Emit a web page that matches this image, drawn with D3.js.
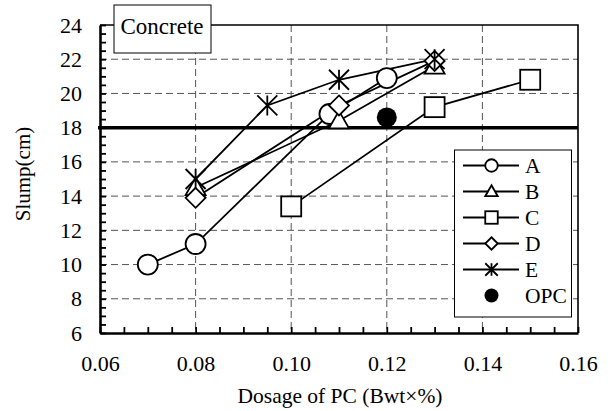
<!DOCTYPE html>
<html>
<head>
<meta charset="utf-8">
<script src="https://cdn.jsdelivr.net/npm/d3@7"></script>
<style>
  html, body { margin: 0; padding: 0; background: #fff; }
  svg text { font-family: "Liberation Serif", "Times New Roman", Times, serif; }
</style>
</head>
<body>
<svg id="chart" width="608" height="411"></svg>
<script>
// Slump of concrete versus PC dosage, per admixture type
const seriesNames = ["A", "B", "C", "D", "E"];
const seriesA = [[0.07, 10.0], [0.08, 11.2], [0.108, 18.8], [0.12, 20.9]];
const seriesB = [[0.08, 14.5], [0.11, 18.4], [0.13, 21.6]];
const seriesC = [[0.10, 13.4], [0.13, 19.2], [0.15, 20.8]];
const seriesD = [[0.08, 13.9], [0.11, 19.3], [0.13, 21.9]];
const seriesE = [[0.08, 15.0], [0.095, 19.3], [0.11, 20.8], [0.13, 22.0]];
const opcPoint = [[0.12, 18.6]];
const targetSlump = 18;
const xTicks = [0.06, 0.08, 0.10, 0.12, 0.14, 0.16];
const yTicks = [6, 8, 10, 12, 14, 16, 18, 20, 22, 24];
const markerTypes = ["circle", "triangle", "square", "diamond", "star"];

const FONT = "'Liberation Serif', 'Times New Roman', Times, serif";
const svg = d3.select("#chart");
const pL = 100, pR = 578, pT = 25, pB = 333;

const x = d3.scaleLinear().domain([0.06, 0.16]).range([pL, pR]);
const y = d3.scaleLinear().domain([6, 24]).range([pB, pT]);

// dashed grid
const grid = svg.append("g").attr("stroke", "#555").attr("stroke-width", 1)
  .attr("stroke-dasharray", "7,4");
grid.selectAll(".gy").data(yTicks.slice(1, -1)).join("line")
  .attr("x1", pL).attr("x2", pR)
  .attr("y1", d => y(d)).attr("y2", d => y(d));
grid.selectAll(".gx").data(xTicks.slice(1, -1)).join("line")
  .attr("y1", pT).attr("y2", pB)
  .attr("x1", d => x(d)).attr("x2", d => x(d));

// target slump line
svg.append("line")
  .attr("x1", pL - 2).attr("x2", pR)
  .attr("y1", y(targetSlump)).attr("y2", y(targetSlump))
  .attr("stroke", "#000").attr("stroke-width", 3.5);

// plot frame (top and right)
svg.append("path")
  .attr("d", `M${pL},${pT}H${pR}V${pB}`)
  .attr("fill", "none").attr("stroke", "#000").attr("stroke-width", 1.6);

// axes with inward ticks
const yMinor = d3.range(6, 24.01, 0.5);
const xMinor = d3.range(0.06, 0.1601, 0.005);

const yAxis = svg.append("g").attr("transform", `translate(${pL},0)`)
  .call(d3.axisLeft(y).tickValues(yMinor).tickSizeInner(-6).tickSizeOuter(0)
    .tickPadding(18).tickFormat(d => yTicks.some(t => Math.abs(t - d) < 1e-9) ? d3.format("d")(d) : ""));
const xAxis = svg.append("g").attr("transform", `translate(0,${pB})`)
  .call(d3.axisBottom(x).tickValues(xMinor).tickSizeInner(-6).tickSizeOuter(0)
    .tickFormat(d => xTicks.some(t => Math.abs(t - d) < 1e-9) ? d3.format(".2f")(d) : ""));

[yAxis, xAxis].forEach(g => {
  g.attr("font-family", FONT).attr("font-size", 22);
  g.select(".domain").attr("stroke", "#000").attr("stroke-width", 2.6);
  g.selectAll(".tick line").attr("stroke", "#000").attr("stroke-width", 1.8);
  g.selectAll("text").attr("fill", "#000").attr("font-family", FONT).attr("font-size", 22);
});
xAxis.selectAll("text").attr("dy", null).attr("y", 37.5);

// axis titles
svg.append("text")
  .attr("x", 340).attr("y", 403).attr("font-family", FONT)
  .attr("text-anchor", "middle").attr("font-size", 21.5)
  .text("Dosage of PC (Bwt×%)");
svg.append("text")
  .attr("transform", `translate(30,174) rotate(-90)`).attr("font-family", FONT)
  .attr("text-anchor", "middle").attr("font-size", 21)
  .text("Slump(cm)");

// marker drawing
function drawMarker(g, type, cx, cy, s) {
  const sw = 1.8;
  if (type === "circle") {
    g.append("circle").attr("cx", cx).attr("cy", cy).attr("r", s / 2)
      .attr("fill", "#fff").attr("stroke", "#000").attr("stroke-width", sw);
  } else if (type === "square") {
    g.append("rect").attr("x", cx - s / 2).attr("y", cy - s / 2).attr("width", s).attr("height", s)
      .attr("fill", "#fff").attr("stroke", "#000").attr("stroke-width", sw);
  } else if (type === "diamond") {
    const h = s / 2;
    g.append("path").attr("d", `M${cx},${cy - h}L${cx + h},${cy}L${cx},${cy + h}L${cx - h},${cy}Z`)
      .attr("fill", "#fff").attr("stroke", "#000").attr("stroke-width", sw);
  } else if (type === "triangle") {
    const h = s / 2;
    g.append("path").attr("d", `M${cx},${cy - h}L${cx + h},${cy + h * 0.75}L${cx - h},${cy + h * 0.75}Z`)
      .attr("fill", "#fff").attr("stroke", "#000").attr("stroke-width", sw);
  } else if (type === "star") {
    const h = s / 2;
    g.append("path").attr("d",
      `M${cx},${cy - h}V${cy + h}M${cx - h},${cy - h}L${cx + h},${cy + h}M${cx + h},${cy - h}L${cx - h},${cy + h}`)
      .attr("fill", "none").attr("stroke", "#000").attr("stroke-width", sw);
  } else if (type === "dot") {
    g.append("circle").attr("cx", cx).attr("cy", cy).attr("r", s / 2).attr("fill", "#000");
  }
}

const allSeries = [seriesA, seriesB, seriesC, seriesD, seriesE];
const line = d3.line().x(d => x(d[0])).y(d => y(d[1]));

// connecting lines first, markers on top
const linesG = svg.append("g");
allSeries.forEach(s => {
  linesG.append("path").attr("d", line(s))
    .attr("fill", "none").attr("stroke", "#000").attr("stroke-width", 1.8);
});
const markG = svg.append("g");
allSeries.forEach((s, i) => {
  s.forEach(d => drawMarker(markG, markerTypes[i], x(d[0]), y(d[1]), 20));
});
opcPoint.forEach(d => drawMarker(markG, "dot", x(d[0]), y(d[1]), 20));

// "Concrete" label box
svg.append("rect").attr("x", 114).attr("y", 5).attr("width", 97).attr("height", 48)
  .attr("fill", "#fff").attr("stroke", "#000").attr("stroke-width", 1);
svg.append("text").attr("x", 162).attr("y", 34).attr("text-anchor", "middle")
  .attr("font-family", FONT).attr("font-size", 23).text("Concrete");

// legend
const legend = svg.append("g");
legend.append("rect").attr("x", 454.5).attr("y", 150).attr("width", 117).attr("height", 167)
  .attr("fill", "#fff").attr("stroke", "#000").attr("stroke-width", 1);
const legendLabels = seriesNames.concat(["OPC"]);
const legendTypes = markerTypes.concat(["dot"]);
legendLabels.forEach((name, i) => {
  const ly = 165.5 + i * 26;
  if (legendTypes[i] !== "dot") {
    legend.append("line").attr("x1", 463).attr("x2", 519).attr("y1", ly).attr("y2", ly)
      .attr("stroke", "#000").attr("stroke-width", 1.8);
  }
  drawMarker(legend, legendTypes[i], 491.5, ly, legendTypes[i] === "dot" ? 14 : 12.5);
  legend.append("text").attr("x", 525).attr("y", ly + 7).attr("font-family", FONT)
    .attr("font-size", 21.5).text(name);
});
</script>
</body>
</html>
